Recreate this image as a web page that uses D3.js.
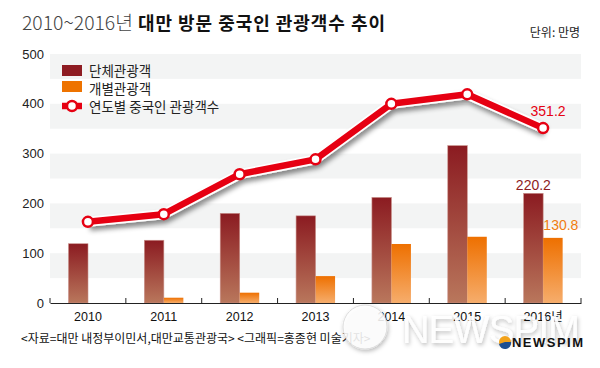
<!DOCTYPE html>
<html>
<head>
<meta charset="utf-8">
<script src="https://cdn.jsdelivr.net/npm/d3@7"></script>
<style>
  body { margin: 0; background: #fff; }
  svg { display: block; }
</style>
</head>
<body>
<div id="chart"></div>
<script>
const years = ["2010", "2011", "2012", "2013", "2014", "2015", "2016"];
const yearLabels = ["2010", "2011", "2012", "2013", "2014", "2015", "2016년"];
const groupTourists = [119, 126, 180, 175, 212, 316, 220.2];   // 단체관광객
const indivTourists = [0, 10.6, 20.7, 54, 118.5, 133, 130.8];   // 개별관광객
const totalTourists = [163, 178.4, 258.6, 288.5, 400, 419, 351.2]; // 연도별 중국인 관광객수
const yTicks = [0, 100, 200, 300, 400, 500];

const width = 600;
const height = 368;
const darkRed = "#8e1c22";
const orange = "#ee7300";
const red = "#e60012";
const krFont = "Noto Sans CJK KR, sans-serif";
const numFont = "Liberation Sans, Noto Sans CJK KR, sans-serif";

const svg = d3.select("#chart")
    .append("svg")
    .attr("width", width)
    .attr("height", height)
    .attr("font-family", numFont);

const defs = svg.append("defs");

// bar gradients
const gDark = defs.append("linearGradient").attr("id", "gDark")
    .attr("x1", 0).attr("y1", 0).attr("x2", 0).attr("y2", 1);
gDark.append("stop").attr("offset", "0%").attr("stop-color", "#8b1b21");
gDark.append("stop").attr("offset", "100%").attr("stop-color", "#b9775c");

const gOrange = defs.append("linearGradient").attr("id", "gOrange")
    .attr("x1", 0).attr("y1", 0).attr("x2", 0).attr("y2", 1);
gOrange.append("stop").attr("offset", "0%").attr("stop-color", "#ee7000");
gOrange.append("stop").attr("offset", "100%").attr("stop-color", "#f6ad6c");

const shadow = defs.append("filter").attr("id", "shadow")
    .attr("x", "-10%").attr("y", "-30%").attr("width", "130%").attr("height", "180%");
shadow.append("feDropShadow")
    .attr("dx", 2).attr("dy", 4).attr("stdDeviation", 2.5)
    .attr("flood-color", "#000").attr("flood-opacity", 0.45);

const wmShadow = defs.append("filter").attr("id", "wmShadow")
    .attr("x", "-10%").attr("y", "-30%").attr("width", "130%").attr("height", "180%");
wmShadow.append("feDropShadow")
    .attr("dx", 1).attr("dy", 2).attr("stdDeviation", 2)
    .attr("flood-color", "#000").attr("flood-opacity", 0.3);

// scales
const x = d3.scaleBand().domain(years).range([50, 581]);
const x1 = d3.scaleBand().domain(["group", "indiv"]).range([18.5, 57.5]);
const y = d3.scaleLinear().domain([0, 500]).range([303, 54]);

// grey bands
svg.append("g").selectAll("rect")
    .data(yTicks.filter(d => d > 0))
    .join("rect")
    .attr("x", 50)
    .attr("width", 531)
    .attr("y", d => y(d))
    .attr("height", d => y(d - 50) - y(d))
    .attr("fill", "#f3f4f4");

// title
svg.append("text")
    .attr("x", 22).attr("y", 30)
    .attr("font-family", krFont)
    .attr("font-size", 19).attr("font-weight", 300).attr("fill", "#444")
    .attr("textLength", 111).attr("lengthAdjust", "spacingAndGlyphs")
    .text("2010~2016년");
svg.append("text")
    .attr("x", 138).attr("y", 30)
    .attr("font-family", krFont)
    .attr("font-size", 18).attr("font-weight", 700).attr("fill", "#111")
    .attr("textLength", 247)
    .text("대만 방문 중국인 관광객수 추이");

svg.append("text")
    .attr("x", 580).attr("y", 37)
    .attr("text-anchor", "end")
    .attr("font-family", krFont)
    .attr("font-size", 12)
    .attr("fill", "#222")
    .text("단위: 만명");

// y axis labels
const yAxis = svg.append("g")
    .attr("transform", "translate(44,0)")
    .call(d3.axisLeft(y).tickValues(yTicks).tickSize(0).tickPadding(0))
    .attr("font-family", numFont);
yAxis.select(".domain").remove();
yAxis.selectAll("text")
    .attr("font-size", 13)
    .attr("fill", "#222");

// bars
const groups = svg.append("g").selectAll("g")
    .data(years)
    .join("g")
    .attr("transform", d => `translate(${x(d)},0)`);

groups.append("rect")
    .attr("x", x1("group"))
    .attr("width", x1.bandwidth())
    .attr("y", (d, i) => y(groupTourists[i]))
    .attr("height", (d, i) => y(0) - y(groupTourists[i]))
    .attr("fill", "url(#gDark)")
    .attr("stroke", "#c9908a")
    .attr("stroke-width", 0.6);

groups.filter((d, i) => indivTourists[i] > 0).append("rect")
    .attr("x", x1("indiv"))
    .attr("width", x1.bandwidth())
    .attr("y", d => y(indivTourists[years.indexOf(d)]))
    .attr("height", d => y(0) - y(indivTourists[years.indexOf(d)]))
    .attr("fill", "url(#gOrange)");

// x axis
const xAxis = svg.append("g")
    .attr("transform", "translate(0,303)")
    .call(d3.axisBottom(x).tickSize(0).tickPadding(9).tickFormat((d, i) => yearLabels[i]))
    .attr("font-family", numFont);
xAxis.select(".domain").attr("stroke", "#222");
xAxis.selectAll("text")
    .attr("font-size", 12.5)
    .attr("fill", "#111");

svg.append("g").selectAll("line")
    .data(years.concat(["end"]))
    .join("line")
    .attr("x1", (d, i) => 50 + i * x.step())
    .attr("x2", (d, i) => 50 + i * x.step())
    .attr("y1", 303)
    .attr("y2", 298)
    .attr("stroke", "#222");

// line series
const cx = d => x(d) + x.bandwidth() / 2;
const line = d3.line()
    .x((d, i) => cx(years[i]))
    .y(d => y(d));

const lineG = svg.append("g");
lineG.append("path")
    .datum(totalTourists)
    .attr("d", line)
    .attr("fill", "none")
    .attr("stroke", "#fff")
    .attr("stroke-width", 10)
    .attr("stroke-linejoin", "round")
    .attr("filter", "url(#shadow)");
lineG.append("path")
    .datum(totalTourists)
    .attr("d", line)
    .attr("fill", "none")
    .attr("stroke", red)
    .attr("stroke-width", 6.5)
    .attr("stroke-linejoin", "round");
lineG.selectAll("circle")
    .data(totalTourists)
    .join("circle")
    .attr("cx", (d, i) => cx(years[i]))
    .attr("cy", d => y(d))
    .attr("r", 5)
    .attr("fill", "#fff")
    .attr("stroke", red)
    .attr("stroke-width", 2.5);

// value labels
const last = years.length - 1;
svg.append("text")
    .attr("x", cx(years[last]) + 5)
    .attr("y", y(totalTourists[last]) - 12)
    .attr("text-anchor", "middle")
    .attr("font-size", 14)
    .attr("fill", red)
    .text(totalTourists[last]);
svg.append("text")
    .attr("x", x(years[last]) + x1("group") + x1.bandwidth() / 2)
    .attr("y", y(groupTourists[last]) - 3)
    .attr("text-anchor", "middle")
    .attr("font-size", 14)
    .attr("fill", darkRed)
    .text(groupTourists[last]);
svg.append("text")
    .attr("x", x(years[last]) + x1("indiv") + x1.bandwidth() / 2 + 8)
    .attr("y", y(indivTourists[last]) - 8)
    .attr("text-anchor", "middle")
    .attr("font-size", 14)
    .attr("fill", "#f07d10")
    .text(indivTourists[last]);

// legend
const legend = svg.append("g").attr("font-family", krFont);
legend.append("rect").attr("x", 62).attr("y", 65).attr("width", 20).attr("height", 11).attr("fill", darkRed);
legend.append("rect").attr("x", 62).attr("y", 81).attr("width", 20).attr("height", 11).attr("fill", orange);
legend.append("line").attr("x1", 62).attr("x2", 82).attr("y1", 106).attr("y2", 106)
    .attr("stroke", red).attr("stroke-width", 6.5);
legend.append("circle").attr("cx", 72).attr("cy", 106).attr("r", 5)
    .attr("fill", "#fff").attr("stroke", red).attr("stroke-width", 2.5);
legend.selectAll("text.lg")
    .data(["단체관광객", "개별관광객", "연도별 중국인 관광객수"])
    .join("text")
    .attr("class", "lg")
    .attr("x", 89)
    .attr("y", (d, i) => 75.5 + i * 18)
    .attr("font-size", 13.5)
    .attr("fill", "#222")
    .text(d => d);

// footer
svg.append("text")
    .attr("x", 21).attr("y", 343)
    .attr("font-family", krFont)
    .attr("font-size", 12)
    .attr("fill", "#111")
    .text("<자료=대만 내정부이민서,대만교통관광국> <그래픽=홍종현 미술기자>");

// watermark
const wm = svg.append("g").attr("filter", "url(#wmShadow)");
wm.append("circle").attr("cx", 365).attr("cy", 327).attr("r", 22)
    .attr("fill", "#fff").attr("fill-opacity", 0.85)
    .attr("stroke", "#ddd").attr("stroke-width", 1);
wm.append("text")
    .attr("x", 402).attr("y", 343)
    .attr("font-size", 38)
    .attr("textLength", 178)
    .attr("fill", "#fff")
    .attr("fill-opacity", 0.9)
    .text("NEWSPIM");

// small logo
svg.append("circle").attr("cx", 505).attr("cy", 342).attr("r", 6).attr("fill", "#f2a21a");
svg.append("path").attr("d", "M499,344 A6,6 0 0 0 511,342 L505,342 Z").attr("fill", "#1d4f91");
svg.append("text")
    .attr("x", 512).attr("y", 347)
    .attr("font-size", 13)
    .attr("font-weight", 700)
    .attr("textLength", 71)
    .attr("fill", "#111")
    .text("NEWSPIM");
</script>
</body>
</html>
